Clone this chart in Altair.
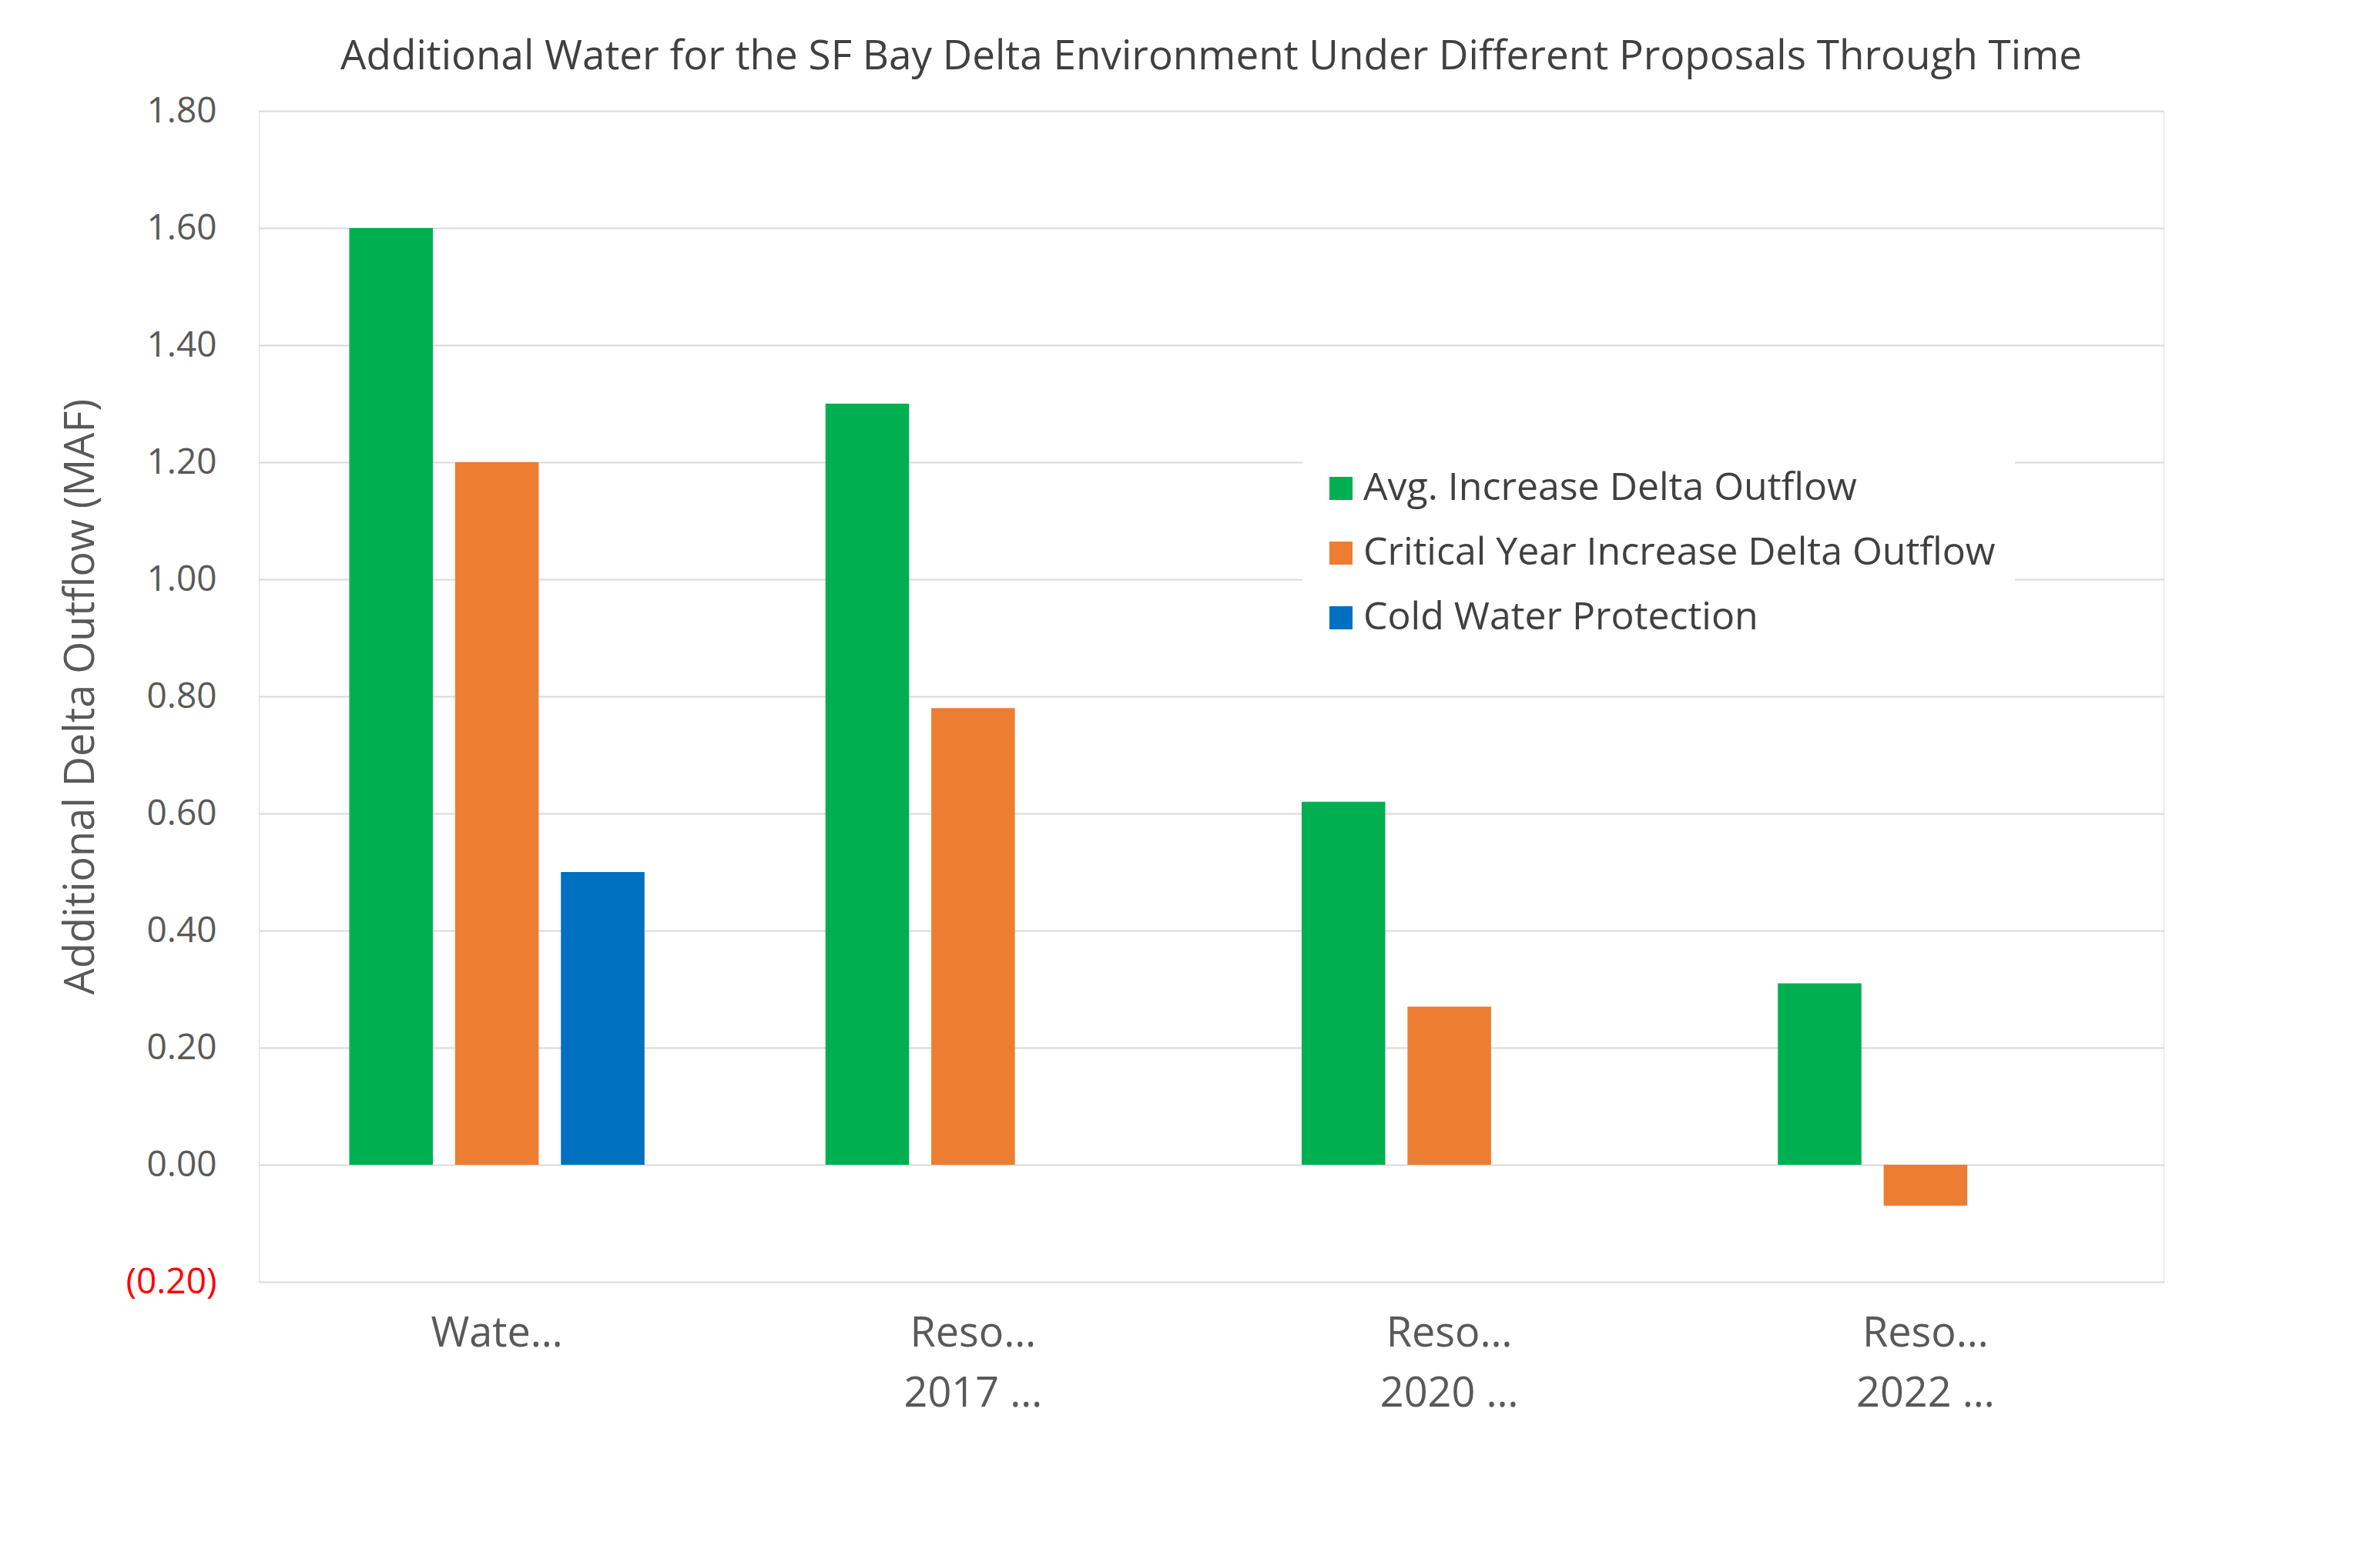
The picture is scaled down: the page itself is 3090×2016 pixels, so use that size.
import altair as alt
import pandas as pd

categories = ["Water Board 2018", "Resources Agency|2017 VA", "Resources Agency|2020 VA \"Adequacy\"", "Resources Agency|2022 \"VA MOU\""]
series = ["Avg. Increase Delta Outflow", "Critical Year Increase Delta Outflow", "Cold Water Protection"]
avg_increase = [1.60, 1.30, 0.62, 0.31]
critical_year = [1.20, 0.78, 0.27, -0.07]
cold_water = [0.50, None, None, None]
colors = ["#00b050", "#ed7d31", "#0070c0"]

rows = []
for i, c in enumerate(categories):
    for s, vals in zip(series, [avg_increase, critical_year, cold_water]):
        if vals[i] is not None:
            rows.append({"cat": c, "series": s, "value": vals[i]})
df = pd.DataFrame(rows)

chart = alt.Chart(df).mark_bar().encode(
    x=alt.X("cat:N", sort=categories, scale=alt.Scale(paddingInner=0.38, paddingOuter=0.19),
            axis=alt.Axis(title=None, labelExpr="split(datum.label, '|')", labelFontSize=54,
                          labelColor="#595959", labelAngle=0, labelPadding=40, ticks=False,
                          domain=False, labelLineHeight=78)),
    xOffset=alt.XOffset("series:N", sort=series, scale=alt.Scale(domain=series, paddingInner=0.21)),
    y=alt.Y("value:Q", scale=alt.Scale(domain=[-0.2, 1.8], nice=False),
            axis=alt.Axis(title="Additional Delta Outflow (MAF)", titleFontSize=54, titleColor="#595959",
                          titleFontWeight="normal", titlePadding=30,
                          values=[-0.2, 0, 0.2, 0.4, 0.6, 0.8, 1.0, 1.2, 1.4, 1.6, 1.8],
                          labelExpr="datum.value < 0 ? '(' + format(-datum.value, '.2f') + ')' : format(datum.value, '.2f')",
                          labelColor=alt.ExprRef("datum.value < 0 ? '#ff0000' : '#595959'"),
                          labelFontSize=46, labelPadding=55, ticks=False, domain=False,
                          gridColor="#d9d9d9", gridWidth=2)),
    color=alt.Color("series:N", sort=series, scale=alt.Scale(domain=series, range=colors),
                    legend=alt.Legend(title=None, orient="none", legendX=1355, legendY=440,
                                      labelFontSize=50, labelColor="#404040", symbolType="square",
                                      symbolSize=900, symbolStrokeWidth=0, rowPadding=34,
                                      fillColor="white", padding=25, labelLimit=1000)),
).properties(
    width=2473, height=1520,
    title=alt.Title("Additional Water for the SF Bay Delta Environment Under Different Proposals Through Time",
                    fontSize=53, fontWeight="normal", color="#404040", offset=20),
    padding={"left": 70, "top": 40, "right": 250, "bottom": 60},
).configure_view(stroke=None).configure(font="Open Sans", background="white")

chart.save("out.html", embed_options={"renderer": "svg", "actions": False})
